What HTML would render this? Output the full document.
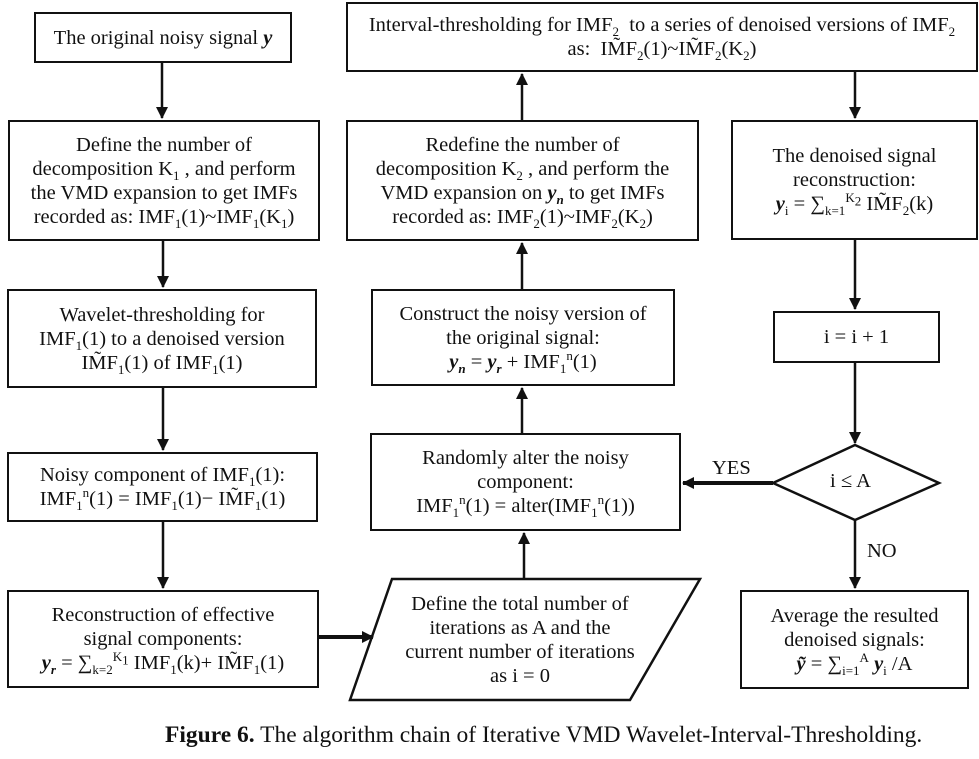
<!DOCTYPE html>
<html><head><meta charset="utf-8"><style>
body{margin:0;width:979px;height:759px;background:#fff;position:relative;overflow:hidden;font-family:"Liberation Serif","DejaVu Serif",serif;color:#111}
.b{position:absolute;border:2px solid #111;box-sizing:border-box;display:flex;align-items:center;justify-content:center;text-align:center;font-size:20.5px;line-height:24px;background:#fff}
.b>div{white-space:nowrap}
sub,sup{font-size:13px;line-height:0}
.t{position:absolute;font-size:20.5px}
svg{position:absolute;left:0;top:0}
b.y{font-style:italic;font-weight:bold}
</style></head><body>
<svg width="979" height="759">
<defs><marker id="a" markerWidth="12" markerHeight="12" refX="11" refY="6" orient="auto" markerUnits="userSpaceOnUse"><path d="M0,0 L12,6 L0,12 z" fill="#111"/></marker></defs>
<g stroke="#111" stroke-width="2.5" fill="none">
<polygon points="855,445 939,483 855,520 773,483" fill="#fff"/>
<polygon points="392,579 700,579 630,700 350,700" fill="#fff"/>
<line x1="162" y1="63" x2="162" y2="118" marker-end="url(#a)"/>
<line x1="163" y1="241" x2="163" y2="287" marker-end="url(#a)"/>
<line x1="163" y1="388" x2="163" y2="450" marker-end="url(#a)"/>
<line x1="163" y1="522" x2="163" y2="588" marker-end="url(#a)"/>
<line x1="319" y1="637" x2="373" y2="637" stroke-width="4" marker-end="url(#a)"/>
<line x1="524" y1="578" x2="524" y2="533" marker-end="url(#a)"/>
<line x1="522" y1="433" x2="522" y2="388" marker-end="url(#a)"/>
<line x1="522" y1="289" x2="522" y2="243" marker-end="url(#a)"/>
<line x1="522" y1="120" x2="522" y2="74" marker-end="url(#a)"/>
<line x1="855" y1="72" x2="855" y2="118" marker-end="url(#a)"/>
<line x1="855" y1="240" x2="855" y2="309" marker-end="url(#a)"/>
<line x1="855" y1="363" x2="855" y2="443" marker-end="url(#a)"/>
<line x1="773" y1="483" x2="683" y2="483" stroke-width="4" marker-end="url(#a)"/>
<line x1="855" y1="520" x2="855" y2="588" marker-end="url(#a)"/>
</g>
</svg>
<div class="b" style="left:34px;top:12px;width:258px;height:51px"><div>The original noisy signal <b class="y">y</b></div></div>
<div class="b" style="left:346px;top:2px;width:632px;height:70px"><div>Interval-thresholding for IMF<sub>2</sub>&nbsp; to a series of denoised versions of IMF<sub>2</sub><br>as:&nbsp; IM̃F<sub>2</sub>(1)~IM̃F<sub>2</sub>(K<sub>2</sub>)</div></div>
<div class="b" style="left:8px;top:120px;width:312px;height:121px"><div>Define the number of<br>decomposition K<sub>1</sub> , and perform<br>the VMD expansion to get IMFs<br>recorded as: IMF<sub>1</sub>(1)~IMF<sub>1</sub>(K<sub>1</sub>)</div></div>
<div class="b" style="left:346px;top:120px;width:353px;height:121px"><div>Redefine the number of<br>decomposition K<sub>2</sub> , and perform the<br>VMD expansion on <b class="y">y<sub>n</sub></b> to get IMFs<br>recorded as: IMF<sub>2</sub>(1)~IMF<sub>2</sub>(K<sub>2</sub>)</div></div>
<div class="b" style="left:731px;top:120px;width:247px;height:120px"><div>The denoised signal<br>reconstruction:<br><b class="y">y</b><sub>i</sub> = ∑<sub>k=1</sub><sup>K<sub>2</sub></sup> IM̃F<sub>2</sub>(k)</div></div>
<div class="b" style="left:7px;top:289px;width:310px;height:99px"><div>Wavelet-thresholding for<br>IMF<sub>1</sub>(1) to a denoised version<br>IM̃F<sub>1</sub>(1) of IMF<sub>1</sub>(1)</div></div>
<div class="b" style="left:371px;top:289px;width:304px;height:97px"><div>Construct the noisy version of<br>the original signal:<br><b class="y">y<sub>n</sub></b> = <b class="y">y<sub>r</sub></b> + IMF<sub>1</sub><sup>n</sup>(1)</div></div>
<div class="b" style="left:773px;top:311px;width:167px;height:52px"><div>i = i + 1</div></div>
<div class="b" style="left:7px;top:452px;width:311px;height:70px"><div>Noisy component of IMF<sub>1</sub>(1):<br>IMF<sub>1</sub><sup>n</sup>(1) = IMF<sub>1</sub>(1)− IM̃F<sub>1</sub>(1)</div></div>
<div class="b" style="left:370px;top:433px;width:311px;height:98px"><div>Randomly alter the noisy<br>component:<br>IMF<sub>1</sub><sup>n</sup>(1) = alter(IMF<sub>1</sub><sup>n</sup>(1))</div></div>
<div class="t" style="left:712px;top:457px">YES</div>
<div class="t" style="left:830px;top:470px">i ≤ A</div>
<div class="t" style="left:867px;top:540px">NO</div>
<div class="b" style="left:7px;top:590px;width:312px;height:98px"><div>Reconstruction of effective<br>signal components:<br><b class="y">y<sub>r</sub></b> = ∑<sub>k=2</sub><sup>K<sub>1</sub></sup> IMF<sub>1</sub>(k)+ IM̃F<sub>1</sub>(1)</div></div>
<div class="b" style="left:395px;top:588px;width:250px;height:104px;border:none;background:none"><div>Define the total number of<br>iterations as A and the<br>current number of iterations<br>as i = 0</div></div>
<div class="b" style="left:740px;top:590px;width:229px;height:99px"><div>Average the resulted<br>denoised signals:<br><b class="y">ỹ</b> = ∑<sub>i=1</sub><sup>A</sup> <b class="y">y</b><sub>i</sub> /A</div></div>
<div class="t" style="left:165px;top:722px;font-size:23.5px;white-space:nowrap"><b>Figure 6.</b> The algorithm chain of Iterative VMD Wavelet-Interval-Thresholding.</div>
</body></html>
